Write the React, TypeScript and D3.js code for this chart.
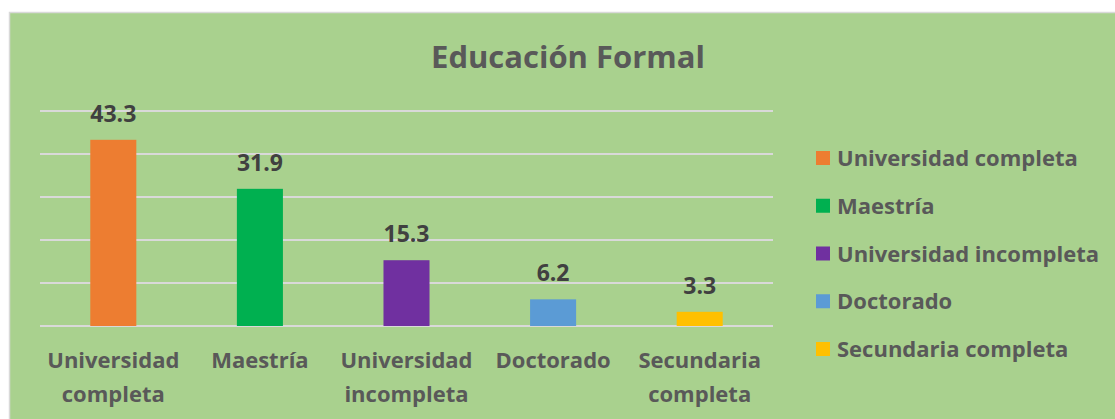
import React from "react";
import * as d3 from "d3";

const categories = ["Universidad completa", "Maestría", "Universidad incompleta", "Doctorado", "Secundaria completa"];
const axisLabels = [["Universidad", "completa"], ["Maestría"], ["Universidad", "incompleta"], ["Doctorado"], ["Secundaria", "completa"]];
const values = [43.3, 31.9, 15.3, 6.2, 3.3];
const colors = ["#ED7D31", "#00B050", "#7030A0", "#5B9BD5", "#FFC000"];
const yTicks = [0, 10, 20, 30, 40, 50];
const title = "Educación Formal";

const FONT = "'Open Sans', 'DejaVu Sans', sans-serif";

export default function App() {
  const W = 1115, H = 419;
  const x = d3.scaleBand<string>().domain(categories).range([40, 773]).paddingInner(0.686).paddingOuter(0.343);
  const y = d3.scaleLinear().domain([0, 50]).range([326, 111]);
  const legendY = d3.scalePoint<string>().domain(categories).range([158, 349]);

  return (
    <div style={{ position: "absolute", left: 0, top: 0 }}>
      <svg width={W} height={H} style={{ display: "block" }}>
        <rect x={0} y={0} width={W} height={H} fill="#ffffff" />
        <rect x={9.5} y={12.5} width={W} height={H} fill="#A9D18E" stroke="#D9D9D9" strokeWidth={1.5} />
        <text x={568} y={68} textAnchor="middle" fontFamily={FONT} fontWeight={700} fontSize={31} fill="#595959">{title}</text>
        {yTicks.map((t) => (
          <line key={t} x1={40} x2={773} y1={y(t)} y2={y(t)} stroke="#D9D9D9" strokeWidth={2} />
        ))}
        {categories.map((c, i) => {
          const bx = x(c)!;
          const cx = bx + x.bandwidth() / 2;
          return (
            <g key={c}>
              <rect x={bx} y={y(values[i])} width={x.bandwidth()} height={y(0) - y(values[i])} fill={colors[i]} />
              <text x={cx} y={y(values[i]) - 18} textAnchor="middle" fontFamily={FONT} fontWeight={700} fontSize={23} fill="#404040">{values[i].toFixed(1)}</text>
              {axisLabels[i].map((l, j) => (
                <text key={j} x={cx} y={368 + j * 34} textAnchor="middle" fontFamily={FONT} fontWeight={700} fontSize={22} fill="#595959">{l}</text>
              ))}
            </g>
          );
        })}
        {categories.map((c, i) => (
          <g key={"lg" + c} transform={`translate(816, ${legendY(c)})`}>
            <rect x={0} y={-7} width={14} height={14} fill={colors[i]} />
            <text x={21} y={8} fontFamily={FONT} fontWeight={700} fontSize={22} fill="#595959">{c}</text>
          </g>
        ))}
      </svg>
    </div>
  );
}
